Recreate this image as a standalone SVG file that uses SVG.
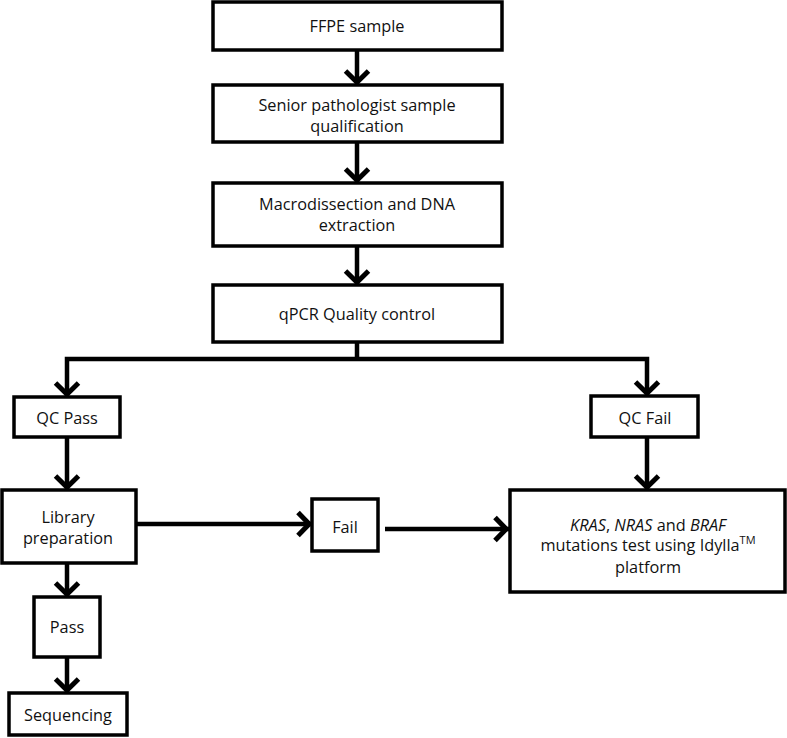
<svg xmlns="http://www.w3.org/2000/svg" width="787" height="738" viewBox="0 0 787 738">
<style>
.box{fill:#fff;stroke:#000;stroke-width:3.5}
.t{font-family:"Open Sans","Liberation Sans",sans-serif;font-size:16.3px;fill:#111;text-anchor:middle;dominant-baseline:central}
.c{fill:none;stroke:#000;stroke-width:4.5}
</style>
<defs>
<marker id="ah" markerUnits="userSpaceOnUse" viewBox="-20 -16 24 32" markerWidth="24" markerHeight="32" refX="0" refY="0" orient="auto-start-reverse">
<path d="M-14,-11.5 L-2.8,0 L-14,11.5" fill="none" stroke="#000" stroke-width="5"/>
</marker>
</defs>
<g id="connectors">
<path class="c" d="M357,50 V85" marker-end="url(#ah)"/>
<path class="c" d="M357,142 V183" marker-end="url(#ah)"/>
<path class="c" d="M357,246 V285" marker-end="url(#ah)"/>
<path class="c" d="M357,342 V359"/>
<path class="c" d="M67,397 V359 H647 V396" marker-start="url(#ah)" marker-end="url(#ah)"/>
<path class="c" d="M67,437 V490" marker-end="url(#ah)"/>
<path class="c" d="M647,437 V490" marker-end="url(#ah)"/>
<path class="c" d="M136,524 H312" marker-end="url(#ah)"/>
<path class="c" d="M385,529 H509" marker-end="url(#ah)"/>
<path class="c" d="M67,563 V597" marker-end="url(#ah)"/>
<path class="c" d="M67,657 V693" marker-end="url(#ah)"/>
</g>
<g id="ffpe"><rect class="box" x="213" y="2" width="289" height="48"/><text class="t" x="357" y="26">FFPE sample</text></g>
<g id="pathologist"><rect class="box" x="213" y="85" width="289" height="57"/><text class="t" x="357" y="105">Senior pathologist sample</text><text class="t" x="357" y="126">qualification</text></g>
<g id="extraction"><rect class="box" x="213" y="183" width="289" height="63"/><text class="t" x="357" y="204">Macrodissection and DNA</text><text class="t" x="357" y="225">extraction</text></g>
<g id="qpcr"><rect class="box" x="213" y="285" width="289" height="57"/><text class="t" x="357" y="314">qPCR Quality control</text></g>
<g id="qcpass"><rect class="box" x="14" y="397" width="106" height="40"/><text class="t" x="67" y="418">QC Pass</text></g>
<g id="qcfail"><rect class="box" x="591" y="396" width="107" height="41"/><text class="t" x="645" y="418">QC Fail</text></g>
<g id="library"><rect class="box" x="2" y="490" width="134" height="73"/><text class="t" x="68" y="517">Library</text><text class="t" x="68" y="538">preparation</text></g>
<g id="fail"><rect class="box" x="312" y="499" width="66" height="52"/><text class="t" x="345" y="527">Fail</text></g>
<g id="idylla"><rect class="box" x="510" y="490" width="275" height="102"/>
<text class="t" x="648" y="525"><tspan font-style="italic">KRAS</tspan>, <tspan font-style="italic">NRAS</tspan> and <tspan font-style="italic">BRAF</tspan></text>
<text class="t" x="648" y="545">mutations test using Idylla<tspan font-size="11" dy="-6">TM</tspan></text>
<text class="t" x="648" y="567">platform</text></g>
<g id="pass"><rect class="box" x="34" y="597" width="66" height="60"/><text class="t" x="67" y="627">Pass</text></g>
<g id="sequencing"><rect class="box" x="9" y="693" width="118" height="42"/><text class="t" x="68" y="715">Sequencing</text></g>
</svg>
